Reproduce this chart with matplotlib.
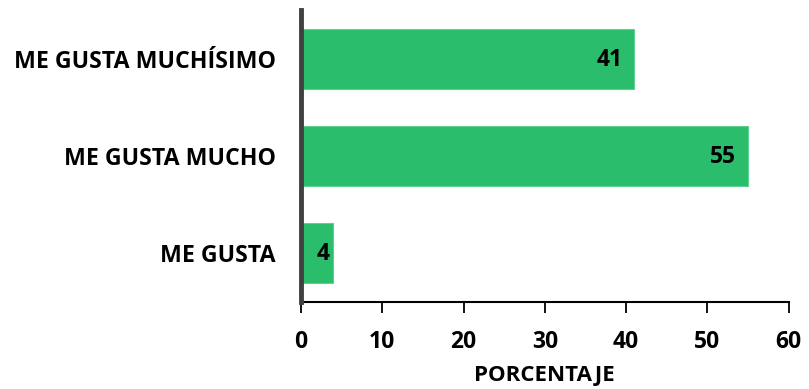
import matplotlib
matplotlib.use("Agg")
import matplotlib.pyplot as plt
import matplotlib.transforms as mtransforms

categories = ["ME GUSTA", "ME GUSTA MUCHO", "ME GUSTA MUCHÍSIMO"]
values = [4, 55, 41]
x_ticks = [0, 10, 20, 30, 40, 50, 60]
x_label = "PORCENTAJE"

plt.rcParams["font.family"] = ["Open Sans", "DejaVu Sans"]
plt.rcParams["font.weight"] = "bold"

fig = plt.figure(figsize=(8.09, 3.89), dpi=100)
ax = fig.add_axes([0.372, 0.224, 0.603, 0.750])

bar_color = "#2abd6b"
ypos = list(range(len(categories)))
ax.barh(ypos, values, height=0.62, color=bar_color, edgecolor="#5fd08f", linewidth=0.8, zorder=2)

ax.set_xlim(0, 60)
ax.set_ylim(-0.5, 2.5)
ax.set_xticks(x_ticks)
ax.set_xticklabels([str(t) for t in x_ticks], fontsize=16.5, fontweight="bold")
ax.set_yticks(ypos)
ax.set_yticklabels(categories, fontsize=16.7, fontweight="bold")
ax.tick_params(axis="y", length=0, pad=18)
ax.tick_params(axis="x", length=8, width=1.3, color="black", pad=12)
ax.set_xlabel(x_label, fontsize=16, fontweight="bold", labelpad=8)

for side in ["top", "right"]:
    ax.spines[side].set_visible(False)
ax.spines["left"].set_color("#404040")
ax.spines["left"].set_linewidth(3.5)
ax.spines["left"].set_zorder(3)
ax.spines["bottom"].set_color("black")
ax.spines["bottom"].set_linewidth(1.5)

# value labels placed inside the end of each bar
for y, v in zip(ypos, values):
    shift = -4 if v < 10 else -12
    tr = ax.transData + mtransforms.ScaledTranslation(shift / 100, -1 / 100, fig.dpi_scale_trans)
    ax.text(v, y, str(v), transform=tr, ha="right", va="center",
            fontsize=16.5, fontweight="bold", color="black", zorder=4)

fig.savefig("out.png", dpi=100)
